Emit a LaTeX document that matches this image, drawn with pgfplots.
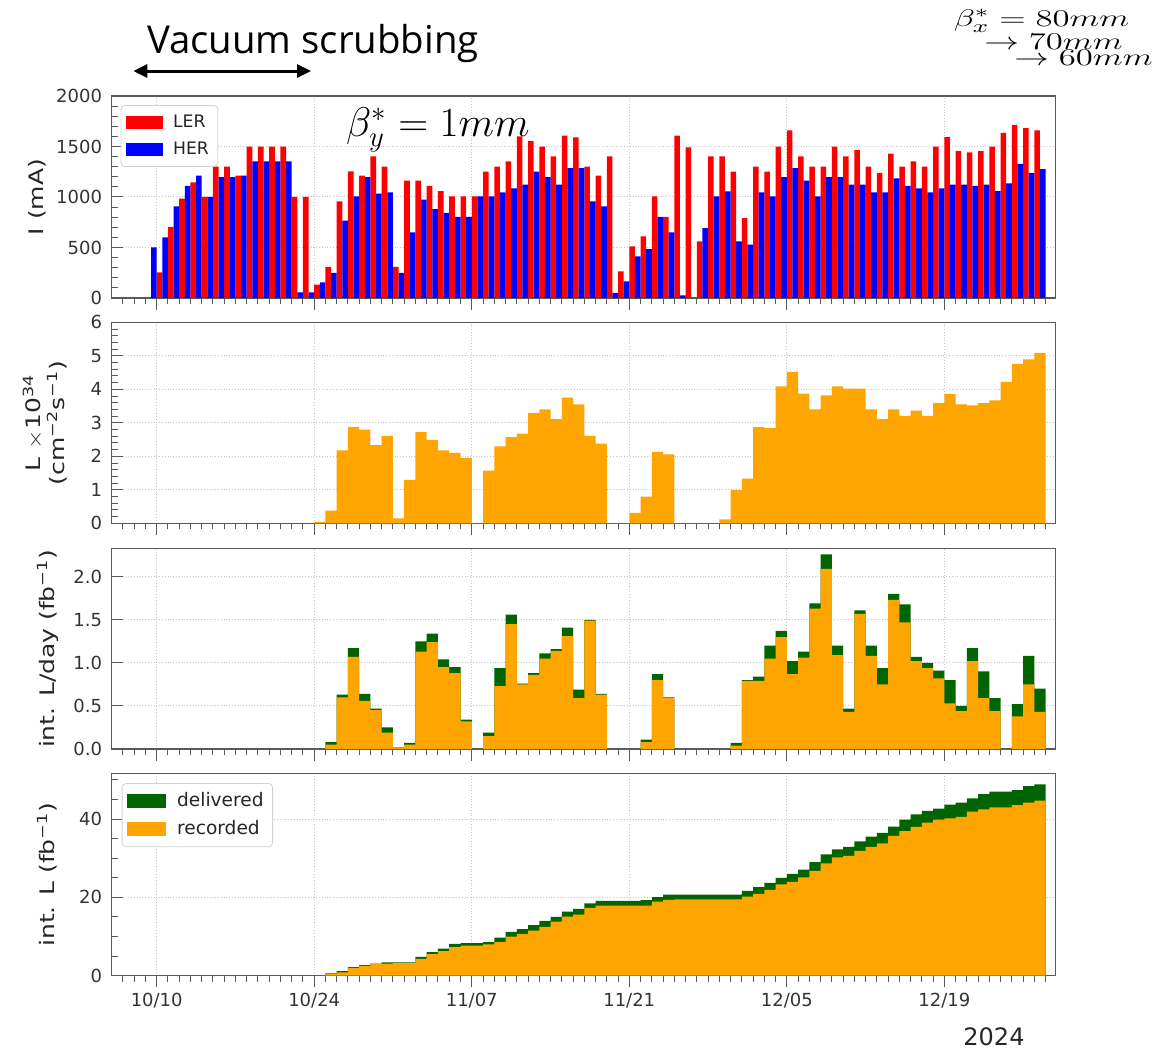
\documentclass[border=0pt]{standalone}
\usepackage{fontspec}
\setmainfont{DejaVu Sans}
\newfontfamily\annofont{Open Sans}
\usepackage{pgfplots}
\usepackage{pgfplotstable}
\pgfplotsset{compat=1.18}
\usetikzlibrary{arrows.meta}

\definecolor{ler}{RGB}{255,0,0}
\definecolor{her}{RGB}{0,0,255}
\definecolor{rec}{RGB}{255,165,0}
\definecolor{dlv}{RGB}{0,100,0}
\definecolor{frame}{gray}{0.35}

% beam currents, LER bar on [k,k+0.5], HER bar on [k-0.5,k]
\pgfplotstableread{
k her ler
0 500 254
1 600 703
2 907 983
3 1109 1145
4 1211 1000
5 1000 1300
6 1198 1300
7 1198 1211
8 1211 1500
9 1353 1500
10 1353 1500
11 1353 1500
12 1353 1000
13 56 1000
14 56 132
15 155 307
16 248 957
17 766 1254
18 1006 1211
19 1198 1403
20 1033 1300
21 1046 307
22 248 1162
23 650 1162
24 974 1109
25 881 1059
26 842 1006
27 802 1006
28 802 1006
29 1006 1251
30 1006 1300
31 1046 1353
32 1086 1600
33 1122 1554
34 1251 1500
35 1198 1403
36 1122 1607
37 1287 1591
38 1287 1300
39 957 1211
40 907 1403
41 50 264
42 165 511
43 412 610
44 485 1006
45 802 802
46 650 1607
47 26 1492
48 0 561
49 693 1403
50 1006 1403
51 1056 1251
52 561 792
53 528 1300
54 1046 1251
55 1006 1500
56 1198 1660
57 1287 1403
58 1162 1300
59 1006 1300
60 1198 1500
61 1198 1403
62 1122 1465
63 1122 1300
64 1046 1238
65 1046 1429
66 1185 1300
67 1109 1353
68 1086 1300
69 1046 1500
70 1086 1594
71 1122 1455
72 1122 1442
73 1109 1455
74 1122 1500
75 1059 1634
76 1135 1713
77 1327 1683
78 1238 1660
79 1277 0
}\current

% day, peak lumi, daily delivered/recorded, integrated delivered/recorded
\pgfplotstableread{
d lum ldel lrec idel irec
14 0.04 0 0 0 0
15 0.38 0.08 0.05 0.6 0.4
16 2.18 0.63 0.60 1.2 0.85
17 2.88 1.17 1.07 2.2 2.0
18 2.80 0.64 0.56 2.7 2.5
19 2.33 0.47 0.45 3.1 3.0
20 2.61 0.25 0.19 3.4 3.1
21 0.15 0.02 0.02 3.4 3.2
22 1.30 0.07 0.05 3.4 3.2
23 2.72 1.25 1.13 4.8 4.3
24 2.49 1.34 1.24 6.0 5.5
25 2.18 1.04 0.95 6.9 6.3
26 2.10 0.95 0.88 8.1 7.3
27 1.95 0.34 0.32 8.3 7.7
28 0 0 0 8.3 7.7
29 1.57 0.19 0.15 8.6 8.0
30 2.30 0.94 0.73 9.7 8.6
31 2.57 1.56 1.45 11.2 10.0
32 2.68 0.76 0.75 11.9 10.6
33 3.29 0.88 0.86 12.9 11.5
34 3.40 1.11 1.05 14.0 12.5
35 3.11 1.16 1.14 15.0 13.8
36 3.75 1.41 1.31 16.4 15.1
37 3.55 0.69 0.59 17.1 15.6
38 2.61 1.50 1.49 18.5 17.3
39 2.38 0.64 0.63 19.1 17.9
40 0 0 0 19.1 17.9
41 0 0 0 19.1 17.9
42 0.31 0 0 19.1 17.9
43 0.80 0.11 0.08 19.3 17.9
44 2.13 0.87 0.80 20.1 18.9
45 2.06 0.60 0.59 20.7 19.4
46 0 0 0 20.7 19.5
47 0 0 0 20.7 19.5
48 0 0 0 20.7 19.5
49 0 0 0 20.7 19.5
50 0.12 0 0 20.7 19.5
51 0.99 0.07 0.04 20.7 19.5
52 1.33 0.80 0.79 21.7 20.2
53 2.87 0.84 0.79 22.6 20.9
54 2.84 1.20 1.05 23.7 21.9
55 4.09 1.37 1.30 25.0 23.3
56 4.52 1.02 0.87 26.0 24.0
57 3.87 1.13 1.06 27.1 25.1
58 3.40 1.69 1.63 29.0 26.8
59 3.82 2.26 2.09 31.0 28.7
60 4.09 1.20 1.09 32.3 30.2
61 4.02 0.47 0.43 32.9 30.6
62 4.02 1.61 1.57 34.3 31.9
63 3.40 1.20 1.08 35.5 32.9
64 3.11 0.94 0.75 36.5 33.8
65 3.40 1.80 1.73 38.1 35.7
66 3.21 1.68 1.47 39.9 36.9
67 3.36 1.07 1.02 41.2 38.0
68 3.21 1.00 0.94 42.1 39.1
69 3.59 0.91 0.82 42.7 39.9
70 3.86 0.80 0.53 43.7 40.2
71 3.55 0.50 0.44 44.2 40.6
72 3.52 1.17 1.02 45.3 41.9
73 3.59 0.90 0.59 46.4 42.5
74 3.67 0.59 0.44 47.0 43.0
75 4.22 0 0 47.0 43.0
76 4.76 0.52 0.38 47.4 43.6
77 4.89 1.08 0.75 48.4 44.2
78 5.09 0.70 0.43 48.9 44.7
79 5.09 0.70 0.43 48.9 44.7
}\lumi

\pgfplotsset{
  panel/.style={
    scale only axis, width=472pt,
    xmin=-4, xmax=79.9,
    xtick={0,14,28,42,56,70},
    minor xtick={-3,-2,...,79},
    xticklabels={},
    tickpos=left,
    tick align=inside,
    major tick length=5.8pt,
    minor tick length=3pt,
    every major x tick/.append style={yshift=-5.8pt},
    every minor x tick/.append style={yshift=-3pt},
    axis line style={frame, line width=0.7pt},
    every tick/.append style={frame, line width=0.5pt},
    grid=major,
    major grid style={gray!45, densely dotted, line width=0.5pt},
    tick label style={font=\fontsize{9}{10}\selectfont, text=black!80},
    y tick label style={xshift=-1.3pt},
    /pgf/number format/assume math mode=true,
    /pgf/number format/1000 sep={},
    ylabel style={font=\fontsize{10}{12}\selectfont, text=black!85, anchor=center},
    legend cell align=left,
  },
}
% y labels are stretched along their length, as in the reference
\newcommand{\ylab}[1]{\scalebox{1.25}[1]{#1}}

\begin{document}
\begin{tikzpicture}
\useasboundingbox (-55.85pt,48pt) rectangle (530.65pt,-477pt);

% beam currents
\begin{axis}[panel, at={(0pt,0pt)}, anchor=north west, height=101pt,
    ymin=0, ymax=2000, ytick={0,500,...,2000}, minor y tick num=4,
    ylabel={\ylab{I (mA)}},
    ylabel style={at={(axis description cs:-0.079,0.5)}},
    legend style={at={(0.0095,0.955)}, anchor=north west, draw=gray!35,
      rounded corners=2pt, font=\fontsize{8.6}{9}\selectfont, text=black!85,
      inner sep=2.5pt, row sep=2pt}]
\addplot[ybar, bar width=0.5, bar shift=0.25, fill=ler, draw=none,
  legend image code/.code={\fill[ler, sharp corners] (0pt,-3.2pt) rectangle (18.3pt,3.2pt); \path (21.5pt,0pt);}]
  table[x=k, y=ler] {\current};
\addlegendentry{LER}
\addplot[ybar, bar width=0.5, bar shift=-0.25, fill=her, draw=none,
  legend image code/.code={\fill[her, sharp corners] (0pt,-3.2pt) rectangle (18.3pt,3.2pt); \path (21.5pt,0pt);}]
  table[x=k, y=her] {\current};
\addlegendentry{HER}
\end{axis}

% peak luminosity
\begin{axis}[panel, at={(0pt,-113.15pt)}, anchor=north west, height=100.5pt,
    ymin=0, ymax=6, ytick={0,1,...,6}, minor y tick num=4,
    ylabel={\ylab{\begin{tabular}{@{}c@{}}L $\times$10\textsuperscript{34}\\[-0.5pt](cm\textsuperscript{−2}s\textsuperscript{−1})\end{tabular}}},
    ylabel style={at={(axis description cs:-0.068,0.5)}}]
\addplot[const plot, fill=rec, draw=none] table[x=d, y=lum] {\lumi} \closedcycle;
\end{axis}

% daily integrated luminosity
\begin{axis}[panel, at={(0pt,-226.15pt)}, anchor=north west, height=100.35pt,
    ymin=0, ymax=2.33, ytick={0,0.5,...,2.0},
    yticklabel style={/pgf/number format/fixed, /pgf/number format/fixed zerofill,
      /pgf/number format/precision=1},
    ylabel={\ylab{int. L/day (fb\textsuperscript{−1})}},
    ylabel style={at={(axis description cs:-0.0675,0.5)}}]
\addplot[const plot, fill=dlv, draw=none] table[x=d, y=ldel] {\lumi} \closedcycle;
\addplot[const plot, fill=rec, draw=none] table[x=d, y=lrec] {\lumi} \closedcycle;
\end{axis}

% integrated luminosity
\begin{axis}[panel, at={(0pt,-338.65pt)}, anchor=north west, height=101.2pt,
    ymin=0, ymax=51.7, ytick={0,20,40}, minor ytick={5,10,15,25,30,35,45,50},
    xticklabels={10/10,10/24,11/07,11/21,12/05,12/19},
    x tick label style={yshift=-5pt},
    ylabel={\ylab{int. L (fb\textsuperscript{−1})}},
    ylabel style={at={(axis description cs:-0.0685,0.5)}},
    legend style={at={(0.0106,0.952)}, anchor=north west, draw=gray!35,
      rounded corners=2pt, font=\fontsize{9.3}{10}\selectfont, text=black!85,
      inner sep=2.5pt, row sep=1.5pt}]
\addplot[const plot, fill=dlv, draw=none,
  legend image code/.code={\fill[dlv, sharp corners] (0pt,-3.5pt) rectangle (19.2pt,3.5pt); \path (23pt,0pt);}]
  table[x=d, y=idel] {\lumi} \closedcycle;
\addlegendentry{delivered}
\addplot[const plot, fill=rec, draw=none,
  legend image code/.code={\fill[rec, sharp corners] (0pt,-3.5pt) rectangle (19.2pt,3.5pt); \path (23pt,0pt);}]
  table[x=d, y=irec] {\lumi} \closedcycle;
\addlegendentry{recorded}
\end{axis}

% annotations
\node[anchor=base west, inner sep=0pt, font=\annofont\fontsize{19.2}{22}\selectfont]
  at (17.5pt,21.5pt) {Vacuum scrubbing};
\draw[line width=1.5pt, {Triangle[length=7pt,width=6.5pt]}-{Triangle[length=7pt,width=6.5pt]}]
  (10.8pt,12.5pt) -- (99.65pt,12.5pt);
\node[anchor=base west, inner sep=0pt, font=\fontsize{20.5}{24}\selectfont]
  at (117pt,-20.35pt) {$\beta_y^* = 1mm$};
\node[anchor=base east, inner sep=0pt, font=\fontsize{13}{15}\selectfont]
  at (509pt,34.65pt) {\scalebox{1.45}[1]{$\beta_x^* = 80mm$}};
\node[anchor=base east, inner sep=0pt, font=\fontsize{13}{15}\selectfont]
  at (505.65pt,23.5pt) {\scalebox{1.45}[1]{$\rightarrow 70mm$}};
\node[anchor=base east, inner sep=0pt, font=\fontsize{13}{15}\selectfont]
  at (520.65pt,15.5pt) {\scalebox{1.45}[1]{$\rightarrow 60mm$}};
\node[anchor=base, inner sep=0pt, font=\fontsize{12}{14}\selectfont, text=black!85]
  at (441.15pt,-474.5pt) {2024};
\end{tikzpicture}
\end{document}
